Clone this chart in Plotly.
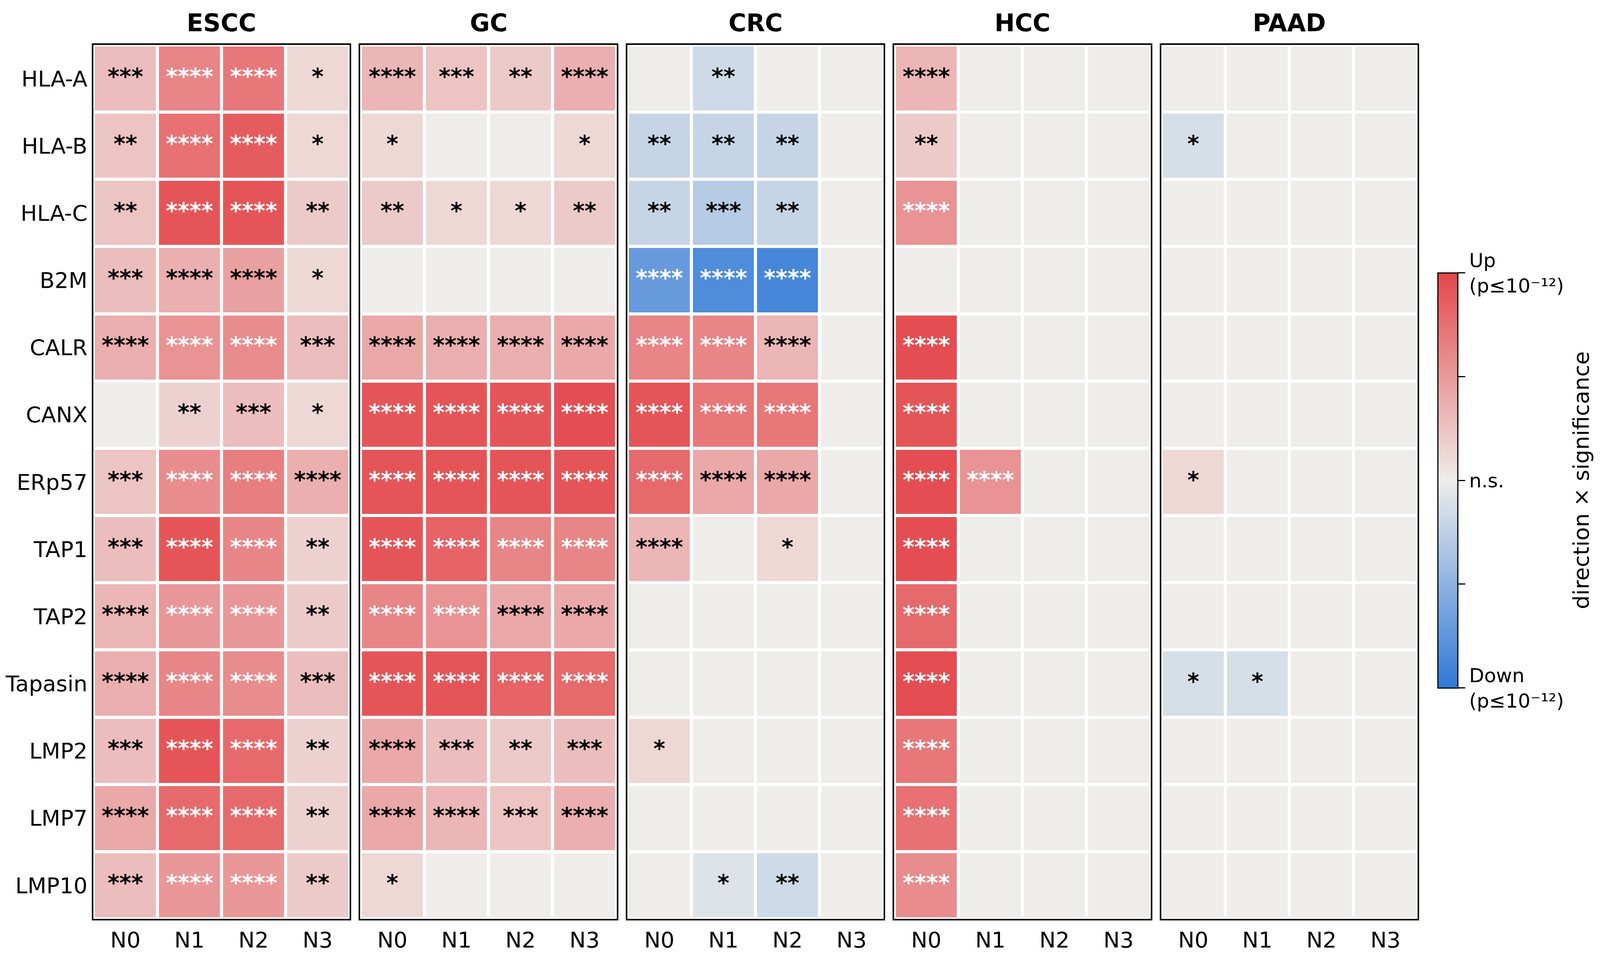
import plotly.graph_objects as go

# ---------------- data ----------------
genes = ["HLA-A", "HLA-B", "HLA-C", "B2M", "CALR", "CANX", "ERp57",
         "TAP1", "TAP2", "Tapasin", "LMP2", "LMP7", "LMP10"]
stages = ["N0", "N1", "N2", "N3"]
cancers = ["ESCC", "GC", "CRC", "HCC", "PAAD"]

# signed -log10(p), capped at 12 (positive = up, negative = down)
escc_vals = [
    [3.5, 7.5, 8.5, 1.5],
    [3.0, 9.0, 10.5, 1.5],
    [3.0, 11.0, 11.0, 2.5],
    [3.5, 4.5, 5.5, 1.5],
    [4.5, 6.5, 7.0, 3.5],
    [0.0, 2.0, 3.5, 1.5],
    [3.0, 7.0, 8.0, 4.5],
    [3.5, 11.0, 7.5, 2.0],
    [4.0, 6.2, 6.2, 2.5],
    [4.5, 7.5, 7.0, 3.5],
    [3.5, 11.0, 9.5, 2.0],
    [5.0, 9.5, 9.5, 2.0],
    [3.5, 6.2, 6.2, 2.5],
]
escc_stars = [
    ["***", "****", "****", "*"],
    ["**", "****", "****", "*"],
    ["**", "****", "****", "**"],
    ["***", "****", "****", "*"],
    ["****", "****", "****", "***"],
    ["", "**", "***", "*"],
    ["***", "****", "****", "****"],
    ["***", "****", "****", "**"],
    ["****", "****", "****", "**"],
    ["****", "****", "****", "***"],
    ["***", "****", "****", "**"],
    ["****", "****", "****", "**"],
    ["***", "****", "****", "**"],
]

gc_vals = [
    [4.0, 3.0, 2.5, 4.5],
    [1.5, 0.0, 0.0, 1.5],
    [2.5, 1.5, 1.5, 2.5],
    [0.0, 0.0, 0.0, 0.0],
    [5.0, 4.5, 4.5, 5.0],
    [11.0, 11.0, 11.0, 11.5],
    [11.0, 11.0, 11.0, 11.0],
    [11.0, 10.0, 7.5, 7.5],
    [7.5, 6.5, 5.0, 5.0],
    [11.0, 11.0, 10.0, 9.5],
    [5.0, 3.5, 2.5, 3.5],
    [5.0, 4.0, 3.0, 4.5],
    [1.5, 0.0, 0.0, 0.0],
]
gc_stars = [
    ["****", "***", "**", "****"],
    ["*", "", "", "*"],
    ["**", "*", "*", "**"],
    ["", "", "", ""],
    ["****", "****", "****", "****"],
    ["****", "****", "****", "****"],
    ["****", "****", "****", "****"],
    ["****", "****", "****", "****"],
    ["****", "****", "****", "****"],
    ["****", "****", "****", "****"],
    ["****", "***", "**", "***"],
    ["****", "****", "***", "****"],
    ["*", "", "", ""],
]

crc_vals = [
    [0.0, -2.0, 0.0, 0.0],
    [-2.5, -2.5, -2.5, 0.0],
    [-2.5, -3.5, -2.5, 0.0],
    [-8.5, -10.0, -10.5, 0.0],
    [7.5, 7.5, 4.0, 0.0],
    [11.0, 8.5, 8.5, 0.0],
    [9.5, 5.0, 5.0, 0.0],
    [4.0, 0.0, 1.5, 0.0],
    [0.0, 0.0, 0.0, 0.0],
    [0.0, 0.0, 0.0, 0.0],
    [1.5, 0.0, 0.0, 0.0],
    [0.0, 0.0, 0.0, 0.0],
    [0.0, -1.0, -2.0, 0.0],
]
crc_stars = [
    ["", "**", "", ""],
    ["**", "**", "**", ""],
    ["**", "***", "**", ""],
    ["****", "****", "****", ""],
    ["****", "****", "****", ""],
    ["****", "****", "****", ""],
    ["****", "****", "****", ""],
    ["****", "", "*", ""],
    ["", "", "", ""],
    ["", "", "", ""],
    ["*", "", "", ""],
    ["", "", "", ""],
    ["", "*", "**", ""],
]

hcc_vals = [
    [4.0, 0.0, 0.0, 0.0],
    [2.5, 0.0, 0.0, 0.0],
    [6.5, 0.0, 0.0, 0.0],
    [0.0, 0.0, 0.0, 0.0],
    [11.5, 0.0, 0.0, 0.0],
    [11.0, 0.0, 0.0, 0.0],
    [11.5, 6.5, 0.0, 0.0],
    [11.5, 0.0, 0.0, 0.0],
    [9.5, 0.0, 0.0, 0.0],
    [11.5, 0.0, 0.0, 0.0],
    [8.5, 0.0, 0.0, 0.0],
    [9.0, 0.0, 0.0, 0.0],
    [7.0, 0.0, 0.0, 0.0],
]
hcc_stars = [
    ["****", "", "", ""],
    ["**", "", "", ""],
    ["****", "", "", ""],
    ["", "", "", ""],
    ["****", "", "", ""],
    ["****", "", "", ""],
    ["****", "****", "", ""],
    ["****", "", "", ""],
    ["****", "", "", ""],
    ["****", "", "", ""],
    ["****", "", "", ""],
    ["****", "", "", ""],
    ["****", "", "", ""],
]

paad_vals = [
    [0.0, 0.0, 0.0, 0.0],
    [-1.5, 0.0, 0.0, 0.0],
    [0.0, 0.0, 0.0, 0.0],
    [0.0, 0.0, 0.0, 0.0],
    [0.0, 0.0, 0.0, 0.0],
    [0.0, 0.0, 0.0, 0.0],
    [1.5, 0.0, 0.0, 0.0],
    [0.0, 0.0, 0.0, 0.0],
    [0.0, 0.0, 0.0, 0.0],
    [-1.5, -1.5, 0.0, 0.0],
    [0.0, 0.0, 0.0, 0.0],
    [0.0, 0.0, 0.0, 0.0],
    [0.0, 0.0, 0.0, 0.0],
]
paad_stars = [
    ["", "", "", ""],
    ["*", "", "", ""],
    ["", "", "", ""],
    ["", "", "", ""],
    ["", "", "", ""],
    ["", "", "", ""],
    ["*", "", "", ""],
    ["", "", "", ""],
    ["", "", "", ""],
    ["*", "*", "", ""],
    ["", "", "", ""],
    ["", "", "", ""],
    ["", "", "", ""],
]

cbar_ticktext = ["Down<br>(p≤10⁻¹²)", "", "n.s.", "", "Up<br>(p≤10⁻¹²)"]
cbar_tickvals = [-12, -6, 0, 6, 12]
cbar_title = "direction × significance"

all_vals = [escc_vals, gc_vals, crc_vals, hcc_vals, paad_vals]
all_stars = [escc_stars, gc_stars, crc_stars, hcc_stars, paad_stars]

# ---------------- layout geometry (reference frame 4282 x 2443) ----------------
W, H = 4282, 2443
ML, MR, MT, MB = 250, 488, 115, 90
PW = W - ML - MR
PH = H - MT - MB
panel_w = 686
gap = (PW - 5 * panel_w) / 4

FONT = "DejaVu Sans"
colorscale = [[0.0, "#2F78D7"], [0.5, "#EEEDEA"], [1.0, "#E4474B"]]

fig = go.Figure()
layout_axes = {}
annotations = []

for i, (name, vals, stars) in enumerate(zip(cancers, all_vals, all_stars)):
    sfx = "" if i == 0 else str(i + 1)
    xa, ya = "x" + sfx, "y" + sfx
    x_idx = list(range(len(stages)))
    y_idx = list(range(len(genes)))
    fig.add_trace(go.Heatmap(
        z=vals, x=x_idx, y=y_idx, coloraxis="coloraxis",
        xgap=8, ygap=8, xaxis=xa, yaxis=ya, hoverinfo="skip",
    ))
    tx, ty, tt, tc = [], [], [], []
    for r, g in enumerate(genes):
        for c, s in enumerate(stages):
            if stars[r][c]:
                tx.append(c)
                ty.append(r)
                tt.append("<b>" + stars[r][c] + "</b>")
                tc.append("white" if abs(vals[r][c]) >= 6 else "black")
    fig.add_trace(go.Scatter(
        x=tx, y=ty, text=tt, mode="text", xaxis=xa, yaxis=ya,
        textposition="middle center",
        textfont=dict(family=FONT, size=58, color=tc),
        showlegend=False, hoverinfo="skip",
    ))
    d0 = i * (panel_w + gap) / PW
    d1 = (i * (panel_w + gap) + panel_w) / PW
    layout_axes["xaxis" + sfx] = dict(
        domain=[d0, d1], anchor=ya, range=[-0.5, 3.5],
        tickvals=x_idx, ticktext=stages, ticks="", showgrid=False,
        zeroline=False, showline=True, mirror=True, linecolor="black",
        linewidth=4, ticklabelstandoff=2,
        tickfont=dict(family=FONT, size=56, color="black"),
    )
    layout_axes["yaxis" + sfx] = dict(
        domain=[0, 1], anchor=xa, range=[len(genes) - 0.5, -0.5],
        tickvals=y_idx, ticktext=genes, ticks="", showgrid=False,
        zeroline=False, showline=True, mirror=True, linecolor="black",
        linewidth=4, showticklabels=(i == 0), ticklabelstandoff=0,
        tickfont=dict(family=FONT, size=56, color="black"),
    )
    annotations.append(dict(
        text="<b>" + name + "</b>", xref=xa + " domain", yref="paper",
        x=0.5, y=1 + (MT - 58) / PH, xanchor="center", yanchor="middle",
        showarrow=False, font=dict(family=FONT, size=62, color="black"),
    ))

# colour-bar title placed to the right of the tick labels
annotations.append(dict(
    text=cbar_title, xref="paper", yref="paper",
    x=(4232 - ML) / PW, y=1 - (1230 - MT) / PH,
    xanchor="center", yanchor="middle", textangle=-90, showarrow=False,
    font=dict(family=FONT, size=56, color="black"),
))

fig.update_layout(
    autosize=True,
    margin=dict(l=ML, r=MR, t=MT, b=MB, pad=0, autoexpand=False),
    paper_bgcolor="white", plot_bgcolor="white",
    font=dict(family=FONT, size=56, color="black"),
    showlegend=False,
    annotations=annotations,
    coloraxis=dict(
        cmin=-12, cmax=12, colorscale=colorscale,
        colorbar=dict(
            x=(3848 - ML) / PW, xanchor="left", xpad=0,
            y=1 - (1230 - MT) / PH, yanchor="middle", ypad=0,
            thickness=53, thicknessmode="pixels",
            len=1063, lenmode="pixels",
            outlinewidth=3, outlinecolor="black",
            tickvals=cbar_tickvals, ticktext=cbar_ticktext,
            ticks="outside", ticklen=18, tickwidth=3, tickcolor="black",
            tickfont=dict(family=FONT, size=50, color="black"),
        ),
    ),
    **layout_axes,
)

# scale pixel margins to the real page size so that proportions follow the reference
post = (
    "document.body.style.margin='0';document.body.style.overflow='hidden';"
    "var gd=document.getElementById('{plot_id}');"
    "var kw=gd.clientWidth/%d, kh=gd.clientHeight/%d;"
    "Plotly.relayout(gd,{'margin.l':%d*kw,'margin.r':%d*kw,'margin.t':%d*kh,'margin.b':%d*kh,"
    "'coloraxis.colorbar.thickness':53*kw,'coloraxis.colorbar.len':1063*kh});"
) % (W, H, ML, MR, MT, MB)

fig.write_html(
    "out.html",
    default_width="100vw",
    default_height="100vh",
    config={"responsive": True, "displayModeBar": False},
    post_script=post,
)
